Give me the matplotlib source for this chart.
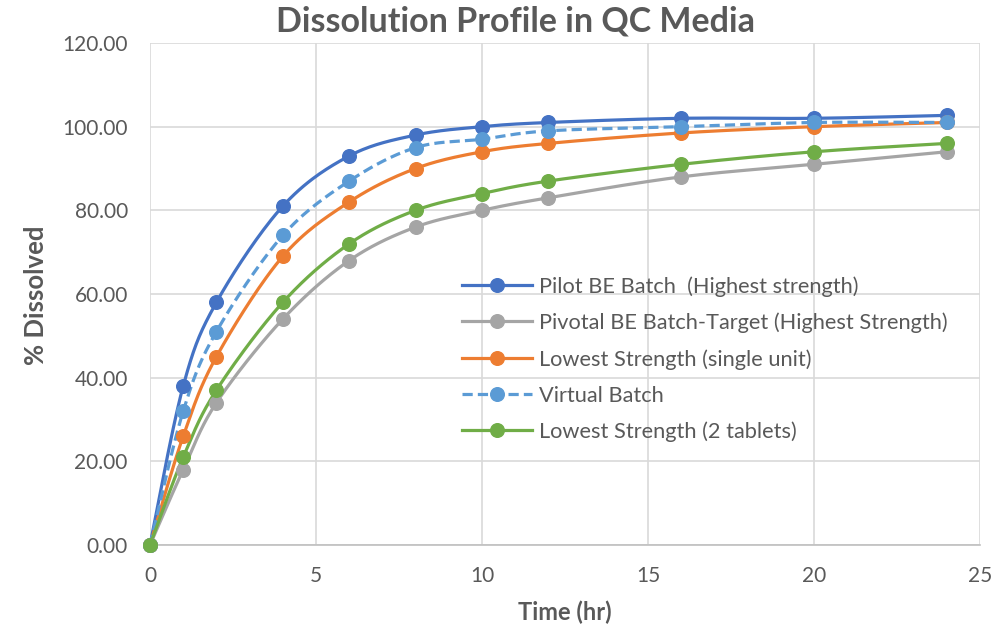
import numpy as np
import matplotlib
matplotlib.use("Agg")
import matplotlib.pyplot as plt
from matplotlib.lines import Line2D

plt.rcParams['font.family'] = ['Lato', 'DejaVu Sans']

time_hr = [0, 1, 2, 4, 6, 8, 10, 12, 16, 20, 24]
pilot = [0, 38, 58, 81, 93, 98, 100, 101, 102, 102, 102.7]
pivotal = [0, 18, 34, 54, 68, 76, 80, 83, 88, 91, 94]
lowest_single = [0, 26, 45, 69, 82, 90, 94, 96, 98.5, 100, 101]
virtual = [0, 32, 51, 74, 87, 95, 97, 99, 100, 101, 101]
lowest_two = [0, 21, 37, 58, 72, 80, 84, 87, 91, 94, 96]

labels = ["Pilot BE Batch  (Highest strength)",
          "Pivotal BE Batch-Target (Highest Strength)",
          "Lowest Strength (single unit)",
          "Virtual Batch",
          "Lowest Strength (2 tablets)"]
colors = ["#4472C4", "#A5A5A5", "#ED7D31", "#5B9BD5", "#70AD47"]
styles = ["-", "-", "-", "--", "-"]
series = [pilot, pivotal, lowest_single, virtual, lowest_two]


def smooth(x, y, n=30):
    # Bezier smoothing similar to spreadsheet smoothed lines
    P = np.column_stack([x, y]).astype(float)
    out = [P[0]]
    for i in range(len(P) - 1):
        p0 = P[i - 1] if i > 0 else P[i]
        p1 = P[i]
        p2 = P[i + 1]
        p3 = P[i + 2] if i + 2 < len(P) else P[i + 1]
        c1 = p1 + (p2 - p0) / 6.0
        c2 = p2 - (p3 - p1) / 6.0
        t = np.linspace(0, 1, n)[1:, None]
        b = ((1 - t) ** 3) * p1 + 3 * ((1 - t) ** 2) * t * c1 + 3 * (1 - t) * t ** 2 * c2 + t ** 3 * p2
        out.extend(b)
    out = np.array(out)
    return out[:, 0], out[:, 1]


fig = plt.figure(figsize=(10.08, 6.28), dpi=100)
ax = fig.add_axes([150 / 1008, 1 - 545 / 628, 830 / 1008, 502 / 628])

LW = 2.3
DASH = (3.2, 1.6)
handles = []
for y, c, ls, lab in zip(series, colors, styles, labels):
    sx, sy = smooth(time_hr, y)
    ln, = ax.plot(sx, sy, color=c, lw=LW, zorder=3, clip_on=False)
    if ls == "--":
        ln.set_dashes(DASH)
    ax.plot(time_hr, y, 'o', color=c, ms=9.8, zorder=4, clip_on=False)
    h = Line2D([0], [0], color=c, lw=LW, marker='o', ms=9.8)
    if ls == "--":
        h.set_dashes(DASH)
    handles.append(h)

ax.set_xlim(0, 25)
ax.set_ylim(0, 120)
ax.set_xticks(range(0, 26, 5))
ax.set_yticks(range(0, 121, 20))
ax.set_yticklabels([f"{v:.2f}" for v in range(0, 121, 20)])
ax.grid(True, color="#D9D9D9", lw=1.2, zorder=0)
for s in ["top", "right", "left"]:
    ax.spines[s].set_visible(False)
ax.spines["bottom"].set_color("#BFBFBF")
ax.spines["bottom"].set_linewidth(1.2)
ax.tick_params(axis='both', length=0, labelsize=15, colors="#595959")
ax.tick_params(axis='y', pad=16)
ax.tick_params(axis='x', pad=15)

ax.set_xlabel("Time (hr)", fontsize=17, fontweight="bold", color="#595959")
ax.xaxis.set_label_coords((565 - 150) / 830, -(612 - 545) / 502)
ax.set_ylabel("% Dissolved", fontsize=18.5, fontweight="bold", color="#595959")
ax.yaxis.set_label_coords(-(150 - 36) / 830, (545 - 295) / 502)
ax.xaxis.label.set_va("center")
ax.yaxis.label.set_va("center")
fig.text(515 / 1008, 1 - 22 / 628, "Dissolution Profile in QC Media", ha="center", va="center",
         fontsize=24.5, fontweight="bold", color="#595959")

leg = ax.legend(handles, labels, loc="upper left", bbox_to_anchor=((462 - 150) / 830, (545 - 276) / 502),
                frameon=False, fontsize=15.7, labelcolor="#595959", handlelength=3.2,
                handletextpad=0.32, labelspacing=0.73, borderaxespad=0, borderpad=0)

fig.savefig("out.png", dpi=100, facecolor="white")
